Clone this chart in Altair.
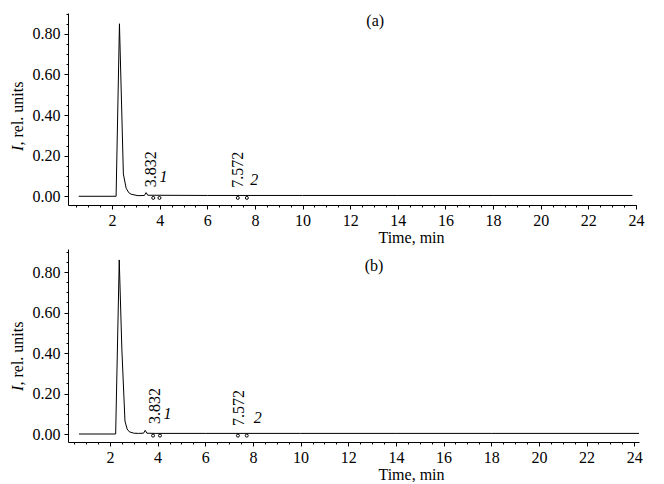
import altair as alt
import pandas as pd

FONT = "Liberation Serif"

# ---- chromatogram (a) ----
time_a = [0.6, 2.17, 2.31, 2.40, 2.475, 2.59, 2.70, 2.80, 3.09, 3.36, 3.43, 3.50, 3.8, 6.0, 10.0, 14.0, 18.0, 23.85]
int_a = [0.0, 0.0, 0.85, 0.45, 0.11, 0.04, 0.018, 0.01, 0.003, 0.004, 0.018, 0.005, 0.005, 0.004, 0.004, 0.004, 0.004, 0.004]

# ---- chromatogram (b) ----
time_b = [0.7, 2.24, 2.39, 2.50, 2.63, 2.72, 2.81, 3.0, 3.2, 3.41, 3.48, 3.55, 3.9, 6.0, 10.0, 14.0, 18.0, 24.2]
int_b = [0.0, 0.0, 0.86, 0.42, 0.064, 0.025, 0.011, 0.004, 0.003, 0.004, 0.018, 0.004, 0.003, 0.003, 0.003, 0.003, 0.003, 0.003]

# peak annotations
peak_rt = ["3.832", "7.572"]
peak_no = ["1", "2"]

rt_t_a = [3.64, 7.27]
rt_i_a = [0.045, 0.042]
no_t_a = [4.16, 7.97]
no_i_a = [0.096, 0.078]
mk_t_a = [3.73, 3.99, 7.28, 7.66]

rt_t_b = [3.89, 7.40]
rt_i_b = [0.05, 0.04]
no_t_b = [4.42, 8.20]
no_i_b = [0.10, 0.077]
mk_t_b = [3.81, 4.10, 7.37, 7.74]
mk_i = -0.008

x_major_vals = [2, 4, 6, 8, 10, 12, 14, 16, 18, 20, 22, 24]
x_minor_vals = [v / 2 for v in range(1, 49)]
y_major_vals = [0.0, 0.2, 0.4, 0.6, 0.8]
y_minor_vals = [v / 100 for v in range(0, 91, 5)]


def panel(times, ints, xdom, ydom, w, h, tag, tag_t, tag_i,
          rt_t, rt_i, no_t, no_i, mk_t, ytitle_px, title_x):
    df = pd.DataFrame({"t": times, "i": ints})
    xs = alt.Scale(domain=xdom, nice=False, zero=False)
    ys = alt.Scale(domain=ydom, nice=False, zero=False)

    x_major = alt.Axis(orient="bottom", values=x_major_vals, format="d",
                       tickSize=4, tickColor="black", tickWidth=1,
                       domainColor="black", domainWidth=1,
                       labelFont=FONT, labelFontSize=16, labelColor="black",
                       labelPadding=3, labelFlush=False, grid=False,
                       title="Time, min", titleFont=FONT, titleFontSize=16,
                       titleFontWeight="normal", titleColor="black",
                       titleX=title_x, titleY=24, titleAlign="center",
                       titleBaseline="top")
    y_major = alt.Axis(orient="left", values=y_major_vals, format=".2f",
                       tickSize=4, tickColor="black", tickWidth=1,
                       domainColor="black", domainWidth=1,
                       labelFont=FONT, labelFontSize=16, labelColor="black",
                       labelPadding=4, labelFlush=False, grid=False, title=None)
    x_minor = alt.Axis(orient="bottom", values=x_minor_vals, labels=False,
                       domain=False, tickSize=2, tickColor="black",
                       grid=False, title=None)
    y_minor = alt.Axis(orient="left", values=y_minor_vals, labels=False,
                       domain=False, tickSize=2, tickColor="black",
                       grid=False, title=None)

    line = alt.Chart(df).mark_line(color="black", strokeWidth=1).encode(
        x=alt.X("t:Q", scale=xs, axis=x_major),
        y=alt.Y("i:Q", scale=ys, axis=y_major))
    minor = alt.Chart(df).mark_line(opacity=0).encode(
        x=alt.X("t:Q", scale=xs, axis=x_minor),
        y=alt.Y("i:Q", scale=ys, axis=y_minor))

    mk_df = pd.DataFrame({"t": mk_t, "i": [mk_i] * len(mk_t)})
    markers = alt.Chart(mk_df).mark_point(shape="circle", size=9, filled=False,
                                          color="black", opacity=1,
                                          strokeWidth=1).encode(
        x=alt.X("t:Q", scale=xs, axis=None),
        y=alt.Y("i:Q", scale=ys, axis=None))

    rt_df = pd.DataFrame({"t": rt_t, "i": rt_i, "s": peak_rt})
    rt = alt.Chart(rt_df).mark_text(angle=270, align="left", baseline="middle",
                                    font=FONT, fontSize=16, color="black").encode(
        x=alt.X("t:Q", scale=xs, axis=None),
        y=alt.Y("i:Q", scale=ys, axis=None), text="s:N")

    no_df = pd.DataFrame({"t": no_t, "i": no_i, "s": peak_no})
    no = alt.Chart(no_df).mark_text(align="center", baseline="middle",
                                    font=FONT, fontSize=16, fontStyle="italic",
                                    color="black").encode(
        x=alt.X("t:Q", scale=xs, axis=None),
        y=alt.Y("i:Q", scale=ys, axis=None), text="s:N")

    tag_df = pd.DataFrame({"t": [tag_t], "i": [tag_i], "s": [tag]})
    tg = alt.Chart(tag_df).mark_text(align="center", baseline="middle",
                                     font=FONT, fontSize=16, color="black").encode(
        x=alt.X("t:Q", scale=xs, axis=None),
        y=alt.Y("i:Q", scale=ys, axis=None), text="s:N")

    one = pd.DataFrame({"a": [0]})
    yt1 = alt.Chart(one).mark_text(angle=270, align="left", baseline="middle",
                                   font=FONT, fontSize=16, fontStyle="italic",
                                   color="black").encode(
        x=alt.value(-50), y=alt.value(ytitle_px), text=alt.value("I"))
    yt2 = alt.Chart(one).mark_text(angle=270, align="left", baseline="middle",
                                   font=FONT, fontSize=16, color="black").encode(
        x=alt.value(-50), y=alt.value(ytitle_px - 5.5), text=alt.value(", rel. units"))

    return alt.layer(line, minor, markers, rt, no, tg, yt1, yt2).resolve_axis(
        x="independent", y="independent").properties(width=w, height=h)


top = panel(time_a, int_a, [0.15, 24.0], [-0.043, 0.903], 568, 192,
            "(a)", 13.05, 0.865, rt_t_a, rt_i_a, no_t_a, no_i_a, mk_t_a, 138, 343)
bottom = panel(time_b, int_b, [0.24, 24.2], [-0.0395, 0.914], 571, 193,
               "(b)", 13.08, 0.83, rt_t_b, rt_i_b, no_t_b, no_i_b, mk_t_b, 142, 343)

chart = alt.vconcat(top, bottom, spacing=4).configure_view(stroke=None).properties(
    padding={"left": 2, "top": 4, "right": 2, "bottom": 0})

chart.save("out.html", embed_options={"renderer": "svg", "actions": False})
